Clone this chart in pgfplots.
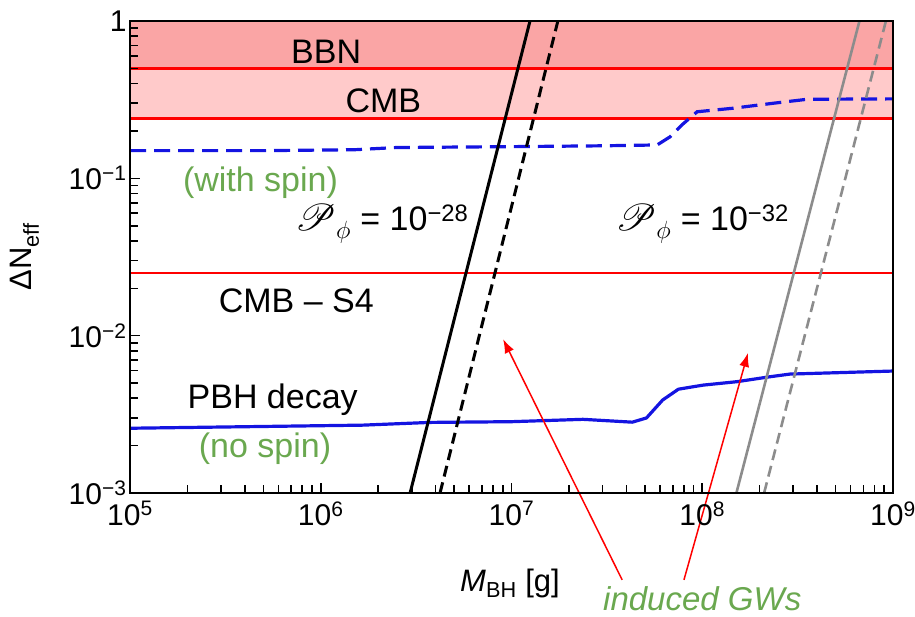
\documentclass[border=0pt]{standalone}
\usepackage{fontspec}
\setmainfont{Liberation Sans}
\usepackage{mathrsfs}
\usepackage{pgfplots}
\pgfplotsset{compat=1.18}
\usetikzlibrary{arrows.meta}

\definecolor{bbnfill}{RGB}{250,165,165}
\definecolor{cmbfill}{RGB}{255,202,202}
\definecolor{lineblue}{RGB}{20,20,225}
\definecolor{gwgray}{RGB}{140,140,140}
\definecolor{notegreen}{RGB}{106,168,79}

\newcommand{\Pphi}{$\scalebox{1.5}{$\mathscr{P}$}_{\phi}$}

\begin{document}
\begin{tikzpicture}
\begin{axis}[
    xmode=log, ymode=log,
    scale only axis, width=763pt, height=472pt,
    xmin=1e5, xmax=1e9, ymin=1e-3, ymax=1,
    axis on top, clip=false,
    axis line style={line width=2pt},
    tick pos=left,
    tick style={black, line width=1.6pt},
    major tick length=10pt, minor tick length=8pt,
    xtick={1e5,1e6,1e7,1e8,1e9},
    xticklabels={10\textsuperscript{5},10\textsuperscript{6},10\textsuperscript{7},10\textsuperscript{8},10\textsuperscript{9}},
    ytick={1e-3,1e-2,1e-1,1},
    yticklabels={10\textsuperscript{−3},10\textsuperscript{−2},10\textsuperscript{−1},1},
    minor xtick={2e5,3e5,4e5,5e5,6e5,7e5,8e5,9e5,2e6,3e6,4e6,5e6,6e6,7e6,8e6,9e6,
                 2e7,3e7,4e7,5e7,6e7,7e7,8e7,9e7,2e8,3e8,4e8,5e8,6e8,7e8,8e8,9e8},
    minor ytick={2e-3,3e-3,4e-3,5e-3,6e-3,7e-3,8e-3,9e-3,2e-2,3e-2,4e-2,5e-2,6e-2,7e-2,8e-2,9e-2,
                 0.2,0.3,0.4,0.5,0.6,0.7,0.8,0.9},
    ticklabel style={font=\fontsize{30}{33}\selectfont},
    xticklabel style={yshift=-5pt},
    xlabel={\textit{M}\textsubscript{BH} [g]},
    ylabel={ΔN\textsubscript{eff}},
    label style={font=\fontsize{31}{34}\selectfont},
    xlabel style={at={(rel axis cs:0.498,-0.191)}, anchor=center},
    ylabel style={at={(rel axis cs:-0.138,0.5)}, anchor=center},
]
% excluded regions
\addplot[draw=none, fill=bbnfill] coordinates {(1e5,0.5) (1e9,0.5) (1e9,1) (1e5,1)};
\addplot[draw=none, fill=cmbfill] coordinates {(1e5,0.24) (1e9,0.24) (1e9,0.5) (1e5,0.5)};
\addplot[red, line width=2.8pt] coordinates {(1e5,0.5) (1e9,0.5)};
\addplot[red, line width=2.8pt] coordinates {(1e5,0.24) (1e9,0.24)};
\addplot[red, line width=2.8pt] coordinates {(1e5,0.025) (1e9,0.025)};

% PBH decay, with spin
\addplot[lineblue, line width=3.2pt, dash pattern=on 16pt off 8pt] coordinates {
    (1e5,0.150) (5e5,0.150) (1.5e6,0.152) (2.5e6,0.157) (5e6,0.158)
    (1e7,0.159) (3e7,0.161) (5.8e7,0.163) (6.8e7,0.184) (7.8e7,0.218)
    (9.4e7,0.265) (1.45e8,0.279) (2.35e8,0.300) (3.54e8,0.318) (1e9,0.320)
};
% PBH decay, no spin
\addplot[lineblue, line width=3.2pt, line join=round] coordinates {
    (1e5,0.00258) (1.66e6,0.00270) (3.74e6,0.00281) (1e7,0.00284)
    (2.37e7,0.00294) (4.3e7,0.00282) (5.1e7,0.00300) (6.2e7,0.00390)
    (7.5e7,0.00457) (1.01e8,0.00485) (1.52e8,0.00510) (2.26e8,0.00548)
    (2.88e8,0.00570) (1e9,0.00596)
};

% induced GWs
\addplot[black, line width=3pt] coordinates {(2.94e6,1e-3) (1.25e7,1)};
\addplot[black, line width=3pt, dash pattern=on 11pt off 6pt] coordinates {(4.22e6,1e-3) (1.75e7,1)};
\addplot[gwgray, line width=2.6pt] coordinates {(1.51e8,1e-3) (6.67e8,1)};
\addplot[gwgray, line width=2.6pt, dash pattern=on 11pt off 6pt] coordinates {(2.11e8,1e-3) (9.18e8,1)};

% labels
\begin{scope}[every node/.style={font=\fontsize{34}{36}\selectfont, anchor=base, inner sep=0pt}]
\node at (rel axis cs:0.257,0.911) {BBN};
\node at (rel axis cs:0.332,0.807) {CMB};
\node[text=notegreen] at (rel axis cs:0.171,0.638) {(with spin)};
\node at (rel axis cs:0.330,0.557) {\Pphi{} = 10\textsuperscript{−28}};
\node at (rel axis cs:0.750,0.557) {\Pphi{} = 10\textsuperscript{−32}};
\node at (rel axis cs:0.218,0.383) {CMB – S4};
\node at (rel axis cs:0.187,0.180) {PBH decay};
\node[text=notegreen] at (rel axis cs:0.177,0.076) {(no spin)};
\node[text=notegreen, font=\fontsize{33}{36}\selectfont\itshape] at (rel axis cs:0.750,-0.248) {induced GWs};
\end{scope}
\draw[red, line width=1.5pt, -{Latex[length=14pt,width=10pt]}] (rel axis cs:0.645,-0.184) -- (rel axis cs:0.489,0.326);
\draw[red, line width=1.5pt, -{Latex[length=14pt,width=10pt]}] (rel axis cs:0.726,-0.184) -- (rel axis cs:0.810,0.297);

\coordinate (bl) at (rel axis cs:0,0);
\end{axis}
\pgfresetboundingbox
\path[use as bounding box] ([shift={(-130pt,-123pt)}]bl) rectangle ++(915pt,616pt);
\end{tikzpicture}
\end{document}
